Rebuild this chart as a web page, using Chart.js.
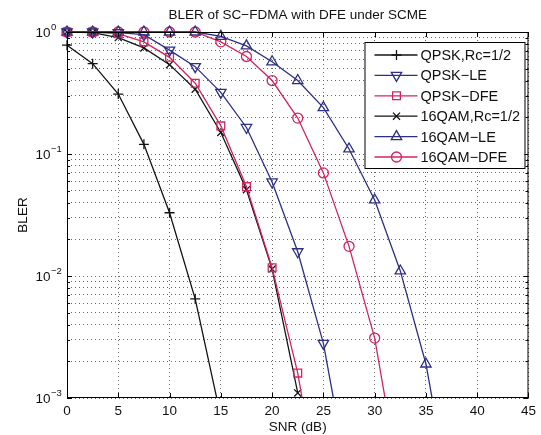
<!DOCTYPE html>
<html>
<head>
<meta charset="utf-8">
<script src="https://cdn.jsdelivr.net/npm/chart.js@4.4.0/dist/chart.umd.min.js"></script>
<style>
  html, body { margin: 0; padding: 0; background: #fff; }
  #wrap { width: 541px; height: 435px; }
</style>
</head>
<body>
<div id="wrap"><canvas id="blerChart"></canvas></div>
<script>
// SNR points (dB)
const snr = [0, 2.5, 5, 7.5, 10, 12.5, 15, 17.5, 20, 22.5, 25, 27.5, 30, 32.5, 35, 37.5];

// BLER per curve
const qpskRc    = [0.78, 0.55, 0.31, 0.12, 0.033, 0.0065, 0.0007];
const qpskLE    = [1, 1, 0.99, 0.95, 0.71, 0.52, 0.32, 0.165, 0.059, 0.0158, 0.0028, 0.0002];
const qpskDFE   = [1, 1, 0.97, 0.83, 0.62, 0.38, 0.17, 0.054, 0.0117, 0.0016, 0.0001];
const qam16Rc   = [1, 0.99, 0.9, 0.74, 0.54, 0.34, 0.15, 0.051, 0.0114, 0.0011];
const qam16LE   = [1, 1, 1, 1, 1, 1, 0.92, 0.77, 0.57, 0.40, 0.24, 0.11, 0.042, 0.011, 0.0019, 0.00013];
const qam16DFE  = [1, 1, 1, 1, 1, 1, 0.83, 0.63, 0.40, 0.197, 0.07, 0.0175, 0.0031, 0.00019];

const seriesNames = ['QPSK,Rc=1/2', 'QPSK\u2212LE', 'QPSK\u2212DFE', '16QAM,Rc=1/2', '16QAM\u2212LE', '16QAM\u2212DFE'];

// axis ticks
const xTicks = [0, 5, 10, 15, 20, 25, 30, 35, 40, 45];
const yTicks = [0.001, 0.002, 0.003, 0.004, 0.005, 0.006, 0.007, 0.008, 0.009,
                0.01, 0.02, 0.03, 0.04, 0.05, 0.06, 0.07, 0.08, 0.09,
                0.1, 0.2, 0.3, 0.4, 0.5, 0.6, 0.7, 0.8, 0.9, 1];
const yDecades = [1, 0.1, 0.01, 0.001];
const yExponents = ['0', '\u22121', '\u22122', '\u22123'];

const BLACK = '#141414';
const BLUE = '#2d2f86';
const RED = '#d3245e';
const FONT = '"Liberation Sans", Arial, Helvetica, sans-serif';

function pts(vals) {
  return vals.map((v, i) => ({ x: snr[i], y: v }));
}

function makeSet(label, vals, color, style, radius, rotation) {
  return {
    label: label,
    data: pts(vals),
    borderColor: color,
    borderWidth: 1.3,
    pointStyle: style,
    pointRadius: radius,
    pointHoverRadius: radius,
    pointRotation: rotation || 0,
    pointBorderColor: color,
    pointBackgroundColor: 'rgba(0,0,0,0)',
    pointBorderWidth: 1.3,
    tension: 0,
    clip: { left: 8, top: false, right: 8, bottom: 0 }
  };
}

const datasets = [
  makeSet(seriesNames[0], qpskRc, BLACK, 'cross', 5),
  makeSet(seriesNames[1], qpskLE, BLUE, 'triangle', 6, 180),
  makeSet(seriesNames[2], qpskDFE, RED, 'rect', 5.5),
  makeSet(seriesNames[3], qam16Rc, BLACK, 'crossRot', 5),
  makeSet(seriesNames[4], qam16LE, BLUE, 'triangle', 6),
  makeSet(seriesNames[5], qam16DFE, RED, 'circle', 5)
];

// box, inward ticks, 10^n labels and the boxed legend
const framePlugin = {
  id: 'frame',
  afterDraw(chart) {
    const ctx = chart.ctx;
    const a = chart.chartArea;
    const xs = chart.scales.x;
    const ys = chart.scales.y;
    ctx.save();
    ctx.strokeStyle = '#000';
    ctx.lineWidth = 1;
    ctx.strokeRect(a.left + 0.5, a.top + 0.5, a.right - a.left - 1, a.bottom - a.top - 1);

    ctx.beginPath();
    xTicks.forEach(t => {
      const px = Math.round(xs.getPixelForValue(t)) + 0.5;
      ctx.moveTo(px, a.bottom); ctx.lineTo(px, a.bottom - 5);
      ctx.moveTo(px, a.top); ctx.lineTo(px, a.top + 5);
    });
    yTicks.forEach(t => {
      const py = Math.round(ys.getPixelForValue(t)) + 0.5;
      const len = yDecades.includes(t) ? 5 : 3;
      ctx.moveTo(a.left, py); ctx.lineTo(a.left + len, py);
      ctx.moveTo(a.right, py); ctx.lineTo(a.right - len, py);
    });
    ctx.stroke();

    // y labels as 10 with superscript
    ctx.fillStyle = '#111';
    ctx.textBaseline = 'middle';
    yDecades.forEach((d, i) => {
      const py = ys.getPixelForValue(d);
      ctx.font = '13.5px ' + FONT;
      ctx.textAlign = 'right';
      ctx.fillText('10', a.left - 16.5, py + 1);
      ctx.font = '9.5px ' + FONT;
      ctx.textAlign = 'left';
      ctx.fillText(yExponents[i], a.left - 16, py - 5);
    });

    // legend
    const lx = a.right - 164, ly = a.top + 10, lw = 160, lh = 126;
    ctx.fillStyle = '#fff';
    ctx.fillRect(lx, ly, lw, lh);
    ctx.strokeStyle = '#000';
    ctx.strokeRect(lx + 0.5, ly + 0.5, lw, lh);
    chart.data.datasets.forEach((ds, i) => {
      const cy = ly + 13 + i * 20.4;
      ctx.strokeStyle = ds.borderColor;
      ctx.lineWidth = 1.3;
      ctx.beginPath();
      ctx.moveTo(lx + 10, cy); ctx.lineTo(lx + 53, cy);
      ctx.stroke();
      ctx.fillStyle = 'rgba(0,0,0,0)';
      Chart.helpers.drawPoint(ctx, {
        pointStyle: ds.pointStyle,
        radius: ds.pointRadius,
        rotation: ds.pointRotation,
        borderWidth: 1.3
      }, lx + 32, cy);
      ctx.fillStyle = '#111';
      ctx.font = '14.5px ' + FONT;
      ctx.textAlign = 'left';
      ctx.textBaseline = 'middle';
      ctx.fillText(ds.label, lx + 56, cy + 1);
    });
    ctx.restore();
  }
};

const ctx = document.getElementById('blerChart').getContext('2d');
const blerChart = new Chart(ctx, {
  type: 'line',
  data: { datasets: datasets },
  options: {
    responsive: true,
    maintainAspectRatio: false,
    animation: false,
    layout: { padding: { left: 0, right: 10, top: 0, bottom: 0 } },
    plugins: {
      legend: { display: false },
      tooltip: { enabled: false },
      title: {
        display: true,
        fullSize: false,
        text: 'BLER of SC\u2212FDMA with DFE under SCME',
        color: '#111',
        font: { family: FONT, size: 13.5, weight: 'normal' },
        padding: { top: 7.4, bottom: 8.4 }
      }
    },
    scales: {
      x: {
        type: 'linear',
        min: 0,
        max: 45,
        afterBuildTicks: scale => { scale.ticks = xTicks.map(v => ({ value: v })); },
        afterFit: scale => { scale.height = 37; },
        ticks: { color: '#111', font: { family: FONT, size: 13.5 }, padding: 5, maxRotation: 0 },
        grid: { color: '#666', drawTicks: false },
        border: { display: false, dash: [1, 3] },
        title: {
          display: true,
          text: 'SNR (dB)',
          color: '#111',
          font: { family: FONT, size: 13.5 },
          padding: { top: 0, bottom: 0 }
        }
      },
      y: {
        type: 'logarithmic',
        min: 0.001,
        max: 1,
        afterBuildTicks: scale => { scale.ticks = yTicks.map(v => ({ value: v })); },
        afterFit: scale => { scale.width = 67; },
        ticks: { display: false, autoSkip: false },
        grid: { color: '#666', drawTicks: false },
        border: { display: false, dash: [1, 3] },
        title: {
          display: true,
          text: 'BLER',
          color: '#111',
          font: { family: FONT, size: 13.5 },
          padding: { top: 15, bottom: 0 }
        }
      }
    }
  },
  plugins: [framePlugin]
});
</script>
</body>
</html>
